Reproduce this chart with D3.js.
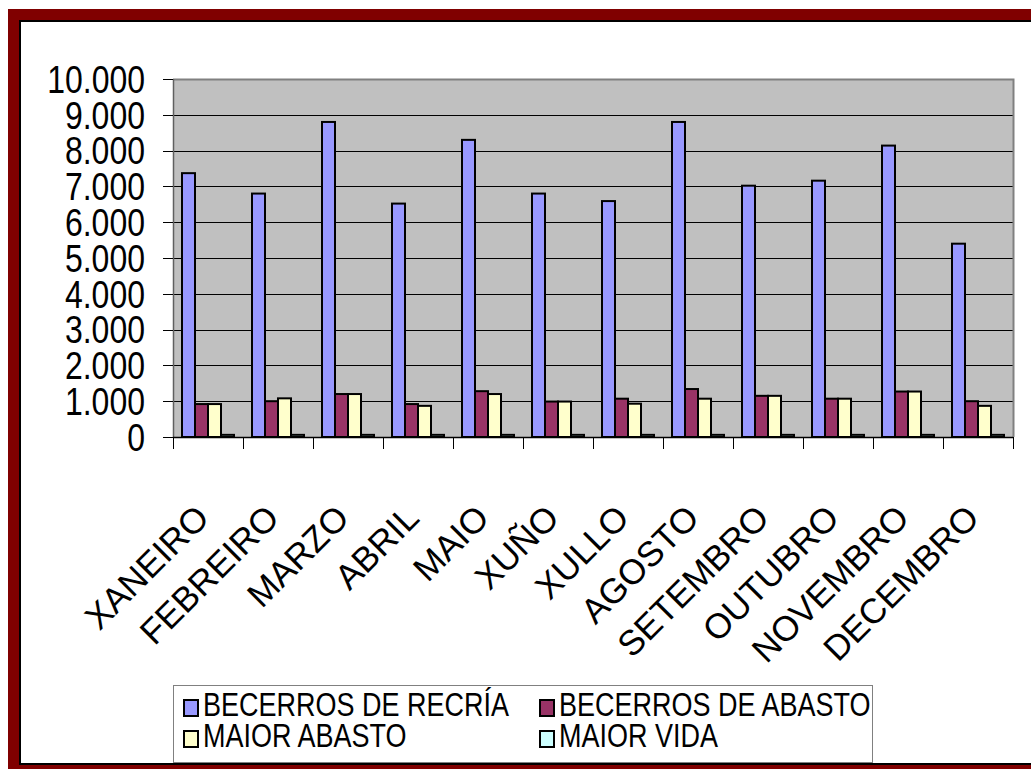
<!DOCTYPE html>
<meta charset="utf-8">
<title>Becerros por mes</title>
<style>
body { margin: 0px; background: #fff; }
text { font-family: "Liberation Sans", Arial, sans-serif; fill: #000; }
</style>
<script src="https://d3js.org/d3.v7.min.js"></script>
<body>
<script>
var width = 1031, height = 769;

// data
var months = ["XANEIRO", "FEBREIRO", "MARZO", "ABRIL", "MAIO", "XUÑO", "XULLO",
              "AGOSTO", "SETEMBRO", "OUTUBRO", "NOVEMBRO", "DECEMBRO"];
var series = ["BECERROS DE RECRÍA", "BECERROS DE ABASTO", "MAIOR ABASTO", "MAIOR VIDA"];
var recria  = [7370, 6800, 8800, 6520, 8300, 6800, 6590, 8800, 7020, 7160, 8140, 5400];
var abasto  = [920, 1000, 1200, 920, 1280, 990, 1070, 1340, 1150, 1070, 1270, 1000];
var maiorAb = [920, 1080, 1200, 870, 1200, 990, 930, 1070, 1150, 1070, 1270, 870];
var maiorVi = [60, 60, 60, 60, 60, 60, 60, 60, 60, 60, 60, 60];
var yTicks = [0, 1000, 2000, 3000, 4000, 5000, 6000, 7000, 8000, 9000, 10000];
var colors = ["#9999ff", "#993366", "#ffffcc", "#ccffff"];
var values = [recria, abasto, maiorAb, maiorVi];

var svg = d3.select("body").append("svg")
    .attr("width", width)
    .attr("height", height);

// frame
svg.append("rect")
    .attr("x", 13.5).attr("y", 14.5)
    .attr("width", 1100).attr("height", 756)
    .attr("fill", "none").attr("stroke", "#800000").attr("stroke-width", 11);
svg.append("rect")
    .attr("x", 20).attr("y", 21)
    .attr("width", 1100).attr("height", 743)
    .attr("fill", "#fff").attr("stroke", "#000").attr("stroke-width", 2);

var plot = {left: 173, top: 79, right: 1013, bottom: 437};

var x0 = d3.scaleBand().domain(months).range([plot.left, plot.right]);
var x1 = d3.scaleBand().domain(d3.range(4)).range([9, 61]);
var y = d3.scaleLinear().domain([0, 10000]).range([plot.bottom, plot.top]);

// plot background
svg.append("rect")
    .attr("x", plot.left).attr("y", plot.top)
    .attr("width", plot.right - plot.left).attr("height", plot.bottom - plot.top)
    .attr("fill", "#c0c0c0");

// gridlines
svg.append("g").selectAll("line")
    .data(yTicks.slice(1, -1))
  .enter().append("line")
    .attr("x1", plot.left).attr("x2", plot.right)
    .attr("y1", function(d) { return Math.round(y(d)) + 0.5; })
    .attr("y2", function(d) { return Math.round(y(d)) + 0.5; })
    .attr("stroke", "#000").attr("stroke-width", 1);

// plot border top / right
svg.append("path")
    .attr("d", "M" + plot.left + "," + (plot.top + 0.5) + "H" + (plot.right + 0.5) + "V" + plot.bottom)
    .attr("fill", "none").attr("stroke", "#808080").attr("stroke-width", 2);

// bars
var groups = svg.append("g").selectAll("g")
    .data(months)
  .enter().append("g")
    .attr("transform", function(d) { return "translate(" + x0(d) + ",0)"; });

groups.selectAll("rect")
    .data(function(d, i) { return values.map(function(v, s) { return {s: s, v: v[i]}; }); })
  .enter().append("rect")
    .attr("x", function(d) { return x1(d.s); })
    .attr("width", x1.bandwidth())
    .attr("y", function(d) { return y(d.v); })
    .attr("height", function(d) { return y(0) - y(d.v); })
    .attr("fill", function(d) { return colors[d.s]; })
    .attr("stroke", "#000").attr("stroke-width", 2);

// y axis
var yAxis = svg.append("g");
yAxis.append("line")
    .attr("x1", plot.left + 0.5).attr("x2", plot.left + 0.5)
    .attr("y1", plot.top).attr("y2", plot.bottom)
    .attr("stroke", "#606060").attr("stroke-width", 1.5);
yAxis.selectAll("line.tick")
    .data(yTicks)
  .enter().append("line")
    .attr("class", "tick")
    .attr("x1", plot.left - 10).attr("x2", plot.left)
    .attr("y1", function(d) { return Math.round(y(d)) + 0.5; })
    .attr("y2", function(d) { return Math.round(y(d)) + 0.5; })
    .attr("stroke", "#000");
var fmt = d3.formatLocale({decimal: ",", thousands: ".", grouping: [3], currency: ["", ""]}).format(",");
yAxis.selectAll("text")
    .data(yTicks)
  .enter().append("text")
    .attr("transform", function(d) { return "translate(145," + y(d) + ") scale(1,1.2)"; })
    .attr("text-anchor", "end")
    .attr("dy", "0.36em")
    .style("font-size", "32px")
    .text(function(d) { return fmt(d); });

// x axis
var xAxis = svg.append("g");
xAxis.append("line")
    .attr("x1", plot.left).attr("x2", plot.right)
    .attr("y1", plot.bottom + 0.5).attr("y2", plot.bottom + 0.5)
    .attr("stroke", "#000").attr("stroke-width", 1.5);
xAxis.selectAll("line.tick")
    .data(months.concat(["end"]))
  .enter().append("line")
    .attr("class", "tick")
    .attr("x1", function(d, i) { return Math.round(plot.left + i * x0.step()) + 0.5; })
    .attr("x2", function(d, i) { return Math.round(plot.left + i * x0.step()) + 0.5; })
    .attr("y1", plot.bottom).attr("y2", plot.bottom + 12)
    .attr("stroke", "#000");
xAxis.selectAll("text")
    .data(months)
  .enter().append("text")
    .attr("transform", function(d) {
      return "translate(" + (x0(d) + x0.bandwidth() / 2 + 3) + ",520) rotate(-45)";
    })
    .attr("text-anchor", "end")
    .style("font-size", "35px")
    .text(function(d) { return d; });

// legend
var legend = svg.append("g");
legend.append("rect")
    .attr("x", 173.5).attr("y", 685.5)
    .attr("width", 699).attr("height", 77)
    .attr("fill", "#fff").attr("stroke", "#808080");
var legPos = [[183, 699], [539, 699], [183, 730], [539, 730]];
var item = legend.selectAll("g")
    .data(series)
  .enter().append("g")
    .attr("transform", function(d, i) { return "translate(" + legPos[i][0] + "," + legPos[i][1] + ")"; });
item.append("rect")
    .attr("x", 1).attr("y", 1)
    .attr("width", 14).attr("height", 16)
    .attr("fill", function(d, i) { return colors[i]; })
    .attr("stroke", "#000").attr("stroke-width", 2);
item.append("text")
    .attr("transform", "translate(20,17) scale(1,1.22)")
    .style("font-size", "27px")
    .text(function(d) { return d; });
</script>
</body>
